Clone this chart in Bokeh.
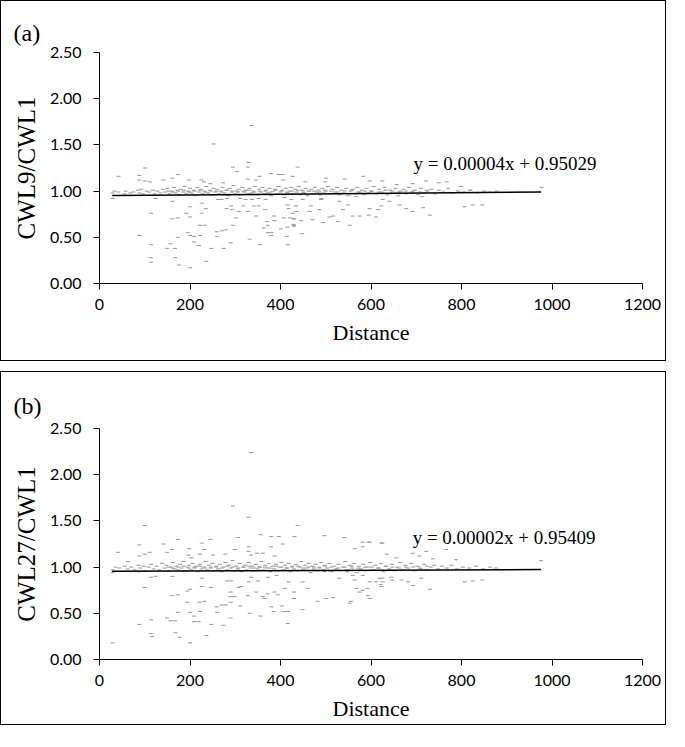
from bokeh.plotting import figure
from bokeh.layouts import column
from bokeh.models import Label, Range1d, FixedTicker, NumeralTickFormatter, ColumnDataSource
from bokeh.embed import file_html
from bokeh.resources import INLINE

# ---------------- data ----------------
x_ticks = [0, 200, 400, 600, 800, 1000, 1200]
y_ticks = [0.0, 0.5, 1.0, 1.5, 2.0, 2.5]

# Panel (a): CWL9/CWL1 vs distance
a_dist = [
    336, 252, 101, 42, 88, 88, 100, 111, 141, 161, 173, 198, 225, 231, 245, 273, 295, 304, 329, 328, 328, 346, 354, 379, 396, 404, 406, 427,
    29, 124, 114, 161, 161, 173, 192, 200, 200, 226, 226, 235, 222, 232, 88, 114, 113, 114, 149, 157, 167, 168, 176, 200, 173, 195, 200, 209,
    222, 209, 220, 236, 247, 260, 259, 270, 279, 274, 290, 295, 302, 281, 291, 293, 308, 318, 328, 332, 346, 355, 363, 370, 372, 372, 380, 380,
    386, 387, 401, 407, 414, 416, 418, 429, 429, 415, 415, 366, 352, 341, 262, 270, 282, 311, 323, 337, 352, 367, 409,
    438, 455, 501, 499, 542, 583, 597, 625, 657, 692, 722, 750, 767, 799, 818, 977,
    424, 434, 449, 467, 486, 464, 427, 435, 421, 430, 446, 471, 494, 429, 430, 448, 508, 516, 527, 553, 538, 549, 560, 575, 595, 611, 616, 597,
    623, 641, 663, 678, 692, 715, 730, 713, 807, 825, 846, 626, 567, 530, 490, 490,
    29, 33, 42, 55, 58, 68, 75, 85, 88, 92, 96, 104, 110, 118, 122, 128, 135, 140, 145, 150, 155, 160, 164, 168, 172, 176, 180, 185, 188, 192,
    196, 200, 204, 208, 212, 216, 220, 224, 228, 232, 236, 240, 244, 248, 252, 256, 260, 264, 268, 272, 276, 280, 284, 288, 292, 296, 300, 304,
    308, 312, 316, 320, 324, 328, 332, 336, 340, 344, 348, 352, 356, 360, 364, 368, 372, 376, 380, 384, 388, 392, 396, 400, 404, 408, 412, 416,
    420, 424, 428, 432, 436, 440, 444, 448, 452, 456, 460, 464, 468, 472, 476, 480, 484, 488, 492, 496, 500, 505, 510, 515, 520, 525, 530, 535,
    540, 545, 550, 555, 560, 565, 570, 575, 580, 585, 590, 595, 600, 606, 612, 618, 624, 630, 636, 642, 648, 654, 660, 666, 672, 678, 684, 690,
    697, 704, 711, 718, 725, 733, 741, 750, 760, 770, 780, 792, 805, 820, 835, 850, 862, 878,
    152, 162, 174, 186, 198, 210, 222, 234, 246, 258, 270, 282, 294, 306, 318, 330, 342, 354, 366, 378, 390, 402, 414, 426, 438, 450, 462, 474,
    486, 498, 512, 527, 542, 557, 572, 587, 602, 617, 632, 647, 662, 677, 693, 708, 723,
]
a_ratio = [
    1.71, 1.51, 1.25, 1.16, 1.17, 1.12, 1.11, 1.10, 1.12, 1.14, 1.18, 1.12, 1.12, 1.10, 1.08, 1.09, 1.26, 1.21, 1.31, 1.26, 1.13, 1.12, 1.16, 1.19, 1.18, 1.18, 1.12, 1.16,
    0.92, 0.92, 0.76, 0.89, 0.70, 0.71, 0.76, 0.83, 0.72, 0.87, 0.76, 0.81, 0.63, 0.63, 0.52, 0.42, 0.28, 0.23, 0.38, 0.43, 0.38, 0.28, 0.20, 0.17, 0.50, 0.55, 0.52, 0.51,
    0.52, 0.45, 0.41, 0.24, 0.38, 0.51, 0.56, 0.57, 0.58, 0.38, 0.44, 0.63, 0.71, 0.81, 0.84, 0.80, 0.78, 0.84, 0.78, 0.48, 0.73, 0.42, 0.60, 0.67, 0.63, 0.55, 0.55, 0.52,
    0.73, 0.68, 0.59, 0.71, 0.51, 0.42, 0.81, 0.70, 0.63, 0.85, 0.61, 0.80, 0.84, 0.84, 0.91, 0.91, 0.92, 0.92, 0.91, 0.91, 0.92, 0.91, 0.93,
    1.26, 1.10, 1.14, 1.10, 1.13, 1.16, 1.11, 1.11, 1.07, 1.08, 1.11, 1.09, 1.10, 1.05, 1.01, 1.04,
    0.91, 0.84, 0.91, 0.84, 0.80, 0.78, 0.76, 0.78, 0.71, 0.70, 0.68, 0.69, 0.66, 0.64, 0.62, 0.54, 0.72, 0.73, 0.67, 0.63, 0.80, 0.85, 0.73, 0.73, 0.74, 0.72, 0.80, 0.81,
    0.84, 0.89, 0.85, 0.81, 0.78, 0.82, 0.74, 0.94, 0.83, 0.85, 0.85, 0.91, 0.94, 0.89, 0.92, 0.91,
    0.98, 1.00, 0.99, 0.97, 1.00, 0.98, 0.99, 1.01, 0.98, 1.02, 0.97, 1.00, 0.99, 1.01, 0.97, 1.00, 0.98, 1.02, 0.99, 1.03, 0.97, 1.00, 1.04, 0.98, 1.01, 0.96, 1.02, 0.99, 1.05, 0.97,
    1.00, 1.03, 0.98, 1.01, 0.95, 1.04, 0.99, 1.02, 0.97, 1.00, 1.05, 0.98, 1.01, 0.96, 1.03, 0.99, 1.02, 0.97, 1.00, 1.04, 0.98, 1.01, 0.95, 1.03, 0.99, 1.06, 0.97, 1.00,
    1.02, 0.96, 1.04, 0.99, 1.01, 0.97, 1.03, 0.98, 1.00, 1.05, 0.96, 1.02, 0.99, 1.04, 0.97, 1.01, 0.98, 1.03, 0.95, 1.00, 1.02, 0.97, 1.05, 0.99, 1.01, 0.96, 1.03, 0.98,
    1.00, 1.04, 0.97, 1.02, 0.99, 1.05, 0.96, 1.01, 0.98, 1.03, 0.95, 1.00, 1.02, 0.97, 1.04, 0.99, 1.01, 0.96, 1.03, 0.98, 1.00, 1.05, 0.97, 1.02, 0.99, 1.04, 0.96, 1.01,
    0.98, 1.03, 0.95, 1.00, 1.02, 0.97, 1.04, 0.99, 1.01, 0.96, 1.03, 0.98, 1.00, 1.05, 0.97, 1.02, 0.99, 1.04, 0.96, 1.01, 0.98, 1.03, 0.95, 1.00, 1.02, 0.97, 1.04, 0.99,
    1.01, 0.96, 1.03, 0.98, 1.00, 1.02, 0.97, 1.01, 0.99, 1.03, 0.98, 1.00, 0.99, 1.01, 0.98, 1.00, 0.99, 1.00,
    1.00, 0.99, 1.00, 1.01, 0.99, 1.00, 1.01, 0.99, 1.00, 1.00, 0.99, 1.01, 1.00, 0.99, 1.00, 1.01, 0.99, 1.00, 1.00, 0.99, 1.01, 1.00, 0.99, 1.00, 1.01, 0.99, 1.00, 1.00,
    0.99, 1.01, 1.00, 0.99, 1.00, 1.01, 0.99, 1.00, 1.00, 0.99, 1.01, 1.00, 0.99, 1.00, 1.00, 0.99, 1.01,
]
a_slope, a_intercept = 0.00004, 0.95029

# Panel (b): CWL27/CWL1 vs distance
b_dist = [
    335, 295, 100, 329, 356, 379, 396, 431, 88, 141, 173, 245, 226, 306, 330, 329, 41, 100, 111, 149, 161, 198, 197, 232, 222, 251, 278, 299,
    348, 379, 405, 63, 88, 203, 335, 361, 387, 438, 497, 541, 581, 594, 623,
    29, 29, 88, 114, 124, 100, 161, 161, 173, 184, 194, 200, 194, 226, 226, 246, 232, 221, 173, 200, 209, 222, 209, 219, 247, 260, 259, 270,
    279, 274, 290, 290, 290, 290, 299, 307, 282, 291, 313, 328, 330, 311, 332, 346, 356, 361, 365, 372, 380, 385, 387, 394, 403, 407, 416, 416,
    418, 429, 430, 409, 88, 114, 113, 116, 149, 157, 167, 168, 177, 200, 236, 350, 335, 372, 391,
    449, 416, 482, 501, 516, 553, 592, 597, 621, 625, 611, 429, 460, 449, 497, 530, 547, 568,
    597, 625, 582, 722, 766, 692, 707, 737, 788, 656, 976, 635, 564,
    560, 564, 582, 597, 619, 626, 645, 667, 682, 693, 711, 730, 807, 825, 846, 582, 593, 597, 575, 556, 623, 647,
    29, 35, 44, 56, 62, 70, 78, 86, 90, 98, 102, 108, 114, 120, 126, 132, 138, 144, 148, 154, 158, 162, 166, 170, 174, 178, 182, 186, 190, 194,
    198, 202, 206, 210, 214, 218, 222, 226, 230, 234, 238, 242, 246, 250, 254, 258, 262, 266, 270, 274, 278, 282, 286, 290, 294, 298, 302, 306,
    310, 314, 318, 322, 326, 330, 334, 338, 342, 346, 350, 354, 358, 362, 366, 370, 374, 378, 382, 386, 390, 394, 398, 402, 406, 410, 414, 418,
    422, 426, 430, 434, 438, 442, 446, 450, 454, 458, 462, 466, 470, 474, 478, 482, 486, 490, 494, 498, 503, 508, 513, 518, 523, 528, 533, 538,
    543, 548, 553, 558, 563, 568, 573, 578, 583, 588, 593, 598, 604, 610, 616, 622, 628, 634, 640, 646, 652, 658, 664, 670, 676, 682, 689, 696,
    703, 710, 717, 724, 732, 740, 748, 757, 767, 778, 790, 803, 817, 832, 848, 863, 876,
    152, 162, 174, 186, 198, 210, 222, 234, 246, 258, 270, 282, 294, 306, 318, 330, 342, 354, 366, 378, 390, 402, 414, 426, 438, 450, 462, 474,
    486, 498, 512, 527, 542, 557, 572, 587, 602, 617, 632, 647, 662, 677, 693, 708, 723,
]
b_ratio = [
    2.24, 1.66, 1.45, 1.54, 1.35, 1.33, 1.33, 1.33, 1.24, 1.25, 1.30, 1.30, 1.26, 1.32, 1.22, 1.17, 1.16, 1.14, 1.16, 1.16, 1.19, 1.20, 1.13, 1.19, 1.14, 1.13, 1.14, 1.19,
    1.15, 1.22, 1.25, 1.06, 1.12, 1.10, 1.13, 1.15, 1.12, 1.45, 1.34, 1.32, 1.27, 1.27, 1.26,
    0.94, 0.18, 0.95, 0.89, 0.90, 0.78, 0.90, 0.69, 0.70, 0.96, 0.74, 0.76, 0.62, 0.88, 0.79, 0.78, 0.63, 0.62, 0.51, 0.51, 0.47, 0.52, 0.41, 0.41, 0.38, 0.51, 0.57, 0.59,
    0.59, 0.37, 0.45, 0.62, 0.68, 0.73, 0.68, 0.78, 0.85, 0.85, 0.79, 0.69, 0.84, 0.58, 0.50, 0.73, 0.47, 0.68, 0.66, 0.71, 0.57, 0.52, 0.73, 0.70, 0.58, 0.52, 0.52, 0.39,
    0.84, 0.66, 0.73, 0.77, 0.38, 0.43, 0.28, 0.25, 0.45, 0.42, 0.42, 0.29, 0.24, 0.18, 0.26, 0.85, 0.89, 0.89, 0.91,
    0.54, 0.52, 0.63, 0.66, 0.67, 0.61, 0.77, 0.66, 0.81, 0.88, 0.84, 0.66, 0.77, 0.84, 0.95, 0.88, 0.95, 0.77,
    1.27, 1.26, 1.22, 1.17, 1.19, 1.15, 1.12, 1.09, 1.08, 1.10, 1.07, 1.14, 1.20,
    0.91, 0.86, 0.91, 0.84, 0.88, 0.84, 0.89, 0.86, 0.84, 0.80, 0.88, 0.76, 0.84, 0.85, 0.86, 0.75, 0.69, 0.66, 0.73, 0.63, 0.79, 0.86,
    0.97, 1.00, 0.99, 1.01, 0.98, 1.00, 0.97, 1.02, 0.99, 1.01, 0.96, 1.00, 1.03, 0.98, 1.01, 0.97, 1.04, 0.99, 1.02, 0.96, 1.00, 1.05, 0.98, 1.01, 0.97, 1.03, 0.99, 1.06, 0.96, 1.00,
    1.02, 0.97, 1.04, 0.99, 1.01, 0.95, 1.03, 0.98, 1.00, 1.06, 0.97, 1.02, 0.99, 1.04, 0.96, 1.01, 0.98, 1.03, 0.95, 1.00, 1.05, 0.97, 1.02, 0.99, 1.07, 0.96, 1.01, 0.98,
    1.04, 0.95, 1.00, 1.02, 0.97, 1.05, 0.99, 1.01, 0.96, 1.03, 0.98, 1.00, 1.06, 0.97, 1.02, 0.99, 1.04, 0.95, 1.01, 0.98, 1.03, 0.96, 1.00, 1.05, 0.97, 1.02, 0.99, 1.04,
    0.95, 1.01, 0.98, 1.03, 0.96, 1.00, 1.06, 0.97, 1.02, 0.99, 1.04, 0.94, 1.01, 0.98, 1.03, 0.96, 1.00, 1.05, 0.97, 1.02, 0.99, 1.04, 0.95, 1.01, 0.98, 1.03, 0.96, 1.00,
    1.06, 0.97, 1.02, 0.99, 1.04, 0.94, 1.01, 0.98, 1.03, 0.96, 1.00, 1.05, 0.97, 1.02, 0.99, 1.04, 0.95, 1.01, 0.98, 1.03, 0.96, 1.00, 1.05, 0.97, 1.02, 0.99, 1.04, 0.96,
    1.01, 0.98, 1.03, 0.97, 1.00, 1.02, 0.98, 1.01, 0.99, 1.02, 0.98, 1.00, 0.99, 1.01, 0.98, 1.00, 0.99,
    1.00, 0.99, 1.00, 1.01, 0.99, 1.00, 1.01, 0.99, 1.00, 1.00, 0.99, 1.01, 1.00, 0.99, 1.00, 1.01, 0.99, 1.00, 1.00, 0.99, 1.01, 1.00, 0.99, 1.00, 1.01, 0.99, 1.00, 1.00,
    0.99, 1.01, 1.00, 0.99, 1.00, 1.01, 0.99, 1.00, 1.00, 0.99, 1.01, 1.00, 0.99, 1.00, 1.00, 0.99, 1.01,
]
b_slope, b_intercept = 0.00002, 0.95409

fit_x = [28, 976]

SERIF = "Liberation Serif"
SANS = "Lato"


def make_panel(tag, ylabel, xs, ys, slope, intercept, eq_text, eq_x, eq_y,
               height, top, bottom, tag_standoff):
    p = figure(width=666, height=height, x_range=Range1d(0, 1200), y_range=Range1d(0, 2.5),
               output_backend="svg", toolbar_location=None,
               min_border_left=98, min_border_right=25, min_border_top=top, min_border_bottom=bottom)
    p.styles = {"border": "1.5px solid #000000"}
    p.outline_line_color = None
    p.grid.visible = False
    p.background_fill_color = "white"
    p.border_fill_color = "white"

    p.title.text = tag
    p.title.align = "left"
    p.title.offset = -86
    p.title.standoff = tag_standoff
    p.title.text_font = SERIF
    p.title.text_font_size = "24px"
    p.title.text_font_style = "normal"
    p.title.text_color = "#000000"

    src = ColumnDataSource(data=dict(x=xs, y=ys))
    p.scatter("x", "y", source=src, marker="dash", size=4, line_color="#959595", line_width=1)

    fit_y = [slope * v + intercept for v in fit_x]
    p.line(fit_x, fit_y, line_color="#000000", line_width=1.5)

    for ax in (p.xaxis[0], p.yaxis[0]):
        ax.axis_line_color = "#000000"
        ax.axis_line_width = 1
        ax.major_tick_line_color = "#000000"
        ax.major_tick_out = 6
        ax.major_tick_in = 0
        ax.minor_tick_line_color = None
        ax.major_label_text_font = SANS
        ax.major_label_text_font_size = "16px"
        ax.major_label_text_color = "#000000"
        ax.axis_label_text_font = SERIF
        ax.axis_label_text_font_style = "normal"
        ax.axis_label_text_color = "#000000"

    p.xaxis.ticker = FixedTicker(ticks=x_ticks)
    p.yaxis.ticker = FixedTicker(ticks=y_ticks)
    p.yaxis.formatter = NumeralTickFormatter(format="0.00")
    p.xaxis.major_label_standoff = 9
    p.yaxis.major_label_standoff = 12
    p.xaxis.axis_label_standoff = 7
    p.yaxis.axis_label_standoff = 7
    p.xaxis.axis_label = "Distance"
    p.yaxis.axis_label = ylabel
    p.xaxis.axis_label_text_font_size = "22px"
    p.yaxis.axis_label_text_font_size = "25px"

    p.add_layout(Label(x=eq_x, y=eq_y, text=eq_text, text_font=SERIF, text_font_size="19px",
                       text_color="#000000", text_baseline="middle", text_align="left"))
    return p


pa = make_panel("(a)", "CWL9/CWL1", a_dist, a_ratio, a_slope, a_intercept,
                "y = 0.00004x + 0.95029", 694, 1.30, 361, 51, 79, 14)
pb = make_panel("(b)", "CWL27/CWL1", b_dist, b_ratio, b_slope, b_intercept,
                "y = 0.00002x + 0.95409", 692, 1.32, 354, 56, 67, 20)

layout = column(pa, pb, spacing=10)
open("out.html", "w").write(file_html(layout, INLINE))
